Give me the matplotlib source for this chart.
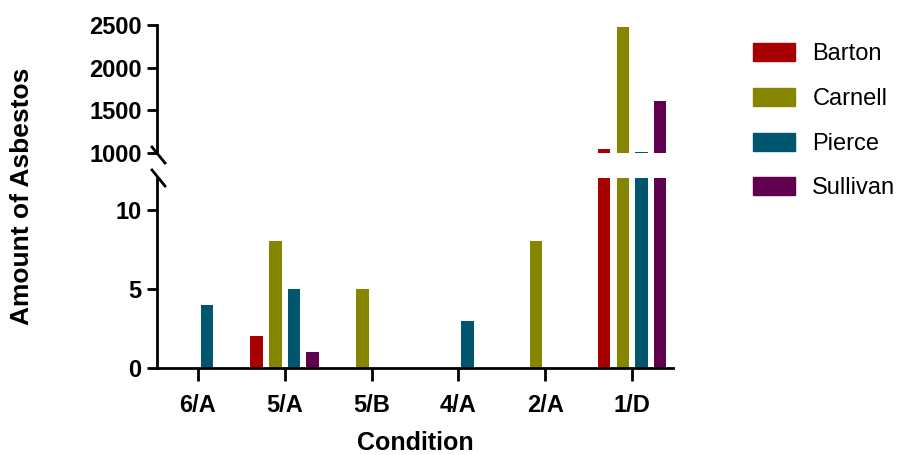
import matplotlib
matplotlib.use("Agg")
import matplotlib.pyplot as plt
import numpy as np
from matplotlib.lines import Line2D
from matplotlib.patches import Patch

plt.rcParams["font.family"] = ["Liberation Sans", "DejaVu Sans"]

# ---------- data ----------
conditions = ["6/A", "5/A", "5/B", "4/A", "2/A", "1/D"]
series = ["Barton", "Carnell", "Pierce", "Sullivan"]
barton = [0, 2, 0, 0, 0, 1050]
carnell = [0, 8, 5, 0, 8, 2480]
pierce = [4, 5, 0, 3, 0, 1010]
sullivan = [0, 1, 0, 0, 0, 1610]
colors = ["#a80000", "#858500", "#00566e", "#60004f"]

low_ticks = [0, 5, 10]
high_ticks = [1000, 1500, 2000, 2500]

# ---------- figure ----------
W, H = 902, 455
fig = plt.figure(figsize=(W / 100, H / 100), dpi=100)

def fy(px):
    return 1 - px / H

left, right = 157 / W, 673 / W
ax_lo = fig.add_axes([left, fy(368), right - left, fy(178) - fy(368)])
ax_hi = fig.add_axes([left, fy(153), right - left, fy(25) - fy(153)])

x = np.arange(len(conditions))
step, width = 0.215, 0.145
for i, (name, vals) in enumerate(zip(series, [barton, carnell, pierce, sullivan])):
    xs = x + (i - 1.5) * step
    ax_lo.bar(xs, vals, width, color=colors[i], label=name)
    ax_hi.bar(xs, vals, width, color=colors[i])

lw = 2.0
fs = 17
for ax in (ax_lo, ax_hi):
    ax.set_xlim(-0.47, 5.47)
    for s in ("top", "right"):
        ax.spines[s].set_visible(False)
    ax.spines["left"].set_linewidth(lw)
    ax.spines["bottom"].set_linewidth(lw)
    ax.tick_params(axis="y", length=7, width=lw, pad=4)

ax_lo.set_ylim(0, 12)
ax_lo.set_yticks(low_ticks)
ax_lo.set_yticklabels([str(v) for v in low_ticks], fontweight="bold", fontsize=fs)
ax_lo.set_xticks(x)
ax_lo.set_xticklabels(conditions, fontweight="bold", fontsize=fs)
ax_lo.tick_params(axis="x", length=9, width=lw, pad=10)
ax_lo.set_xlabel("Condition", fontweight="bold", fontsize=fs + 1, labelpad=10)

ax_hi.set_ylim(1000, 2500)
ax_hi.set_yticks(high_ticks)
ax_hi.set_yticklabels([str(v) for v in high_ticks], fontweight="bold", fontsize=fs)
ax_hi.spines["bottom"].set_visible(False)
ax_hi.set_xticks([])

fig.text(22 / W, fy(196), "Amount of Asbestos", rotation=90, fontweight="bold",
         fontsize=19, ha="center", va="center")

# break marks on the y axis
for cy in (155, 178):
    fig.add_artist(Line2D([152 / W, 165 / W], [fy(cy - 8), fy(cy + 8)],
                          color="black", lw=lw, transform=fig.transFigure))

# ---------- legend ----------
handles = [Patch(color=c) for c in colors]
fig.legend(handles, series, loc="upper left", bbox_to_anchor=(732 / W, fy(22)),
           frameon=False, fontsize=17, handlelength=1.75, handleheight=0.8,
           labelspacing=0.95, handletextpad=0.75)

plt.savefig("out.png", dpi=100)
